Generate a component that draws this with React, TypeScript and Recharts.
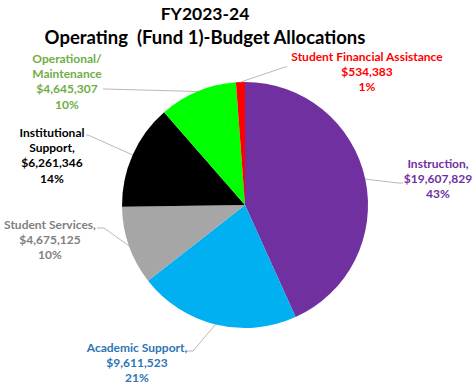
import { PieChart, Pie, Cell } from "recharts";

// FY2023-24 operating fund allocations
const categories = [
  ["Instruction,"],
  ["Academic Support,"],
  ["Student Services,"],
  ["Institutional", "Support,"],
  ["Operational/", "Maintenance"],
  ["Student Financial Assistance"],
];
const amounts = [19607829, 9611523, 4675125, 6261346, 4645307, 534383];

const sliceColors = ["#7030A0", "#00B0F0", "#A6A6A6", "#000000", "#00FF00", "#FF0000"];
const textColors = ["#7030A0", "#2E75B6", "#7F7F7F", "#000000", "#70AD47", "#FF0000"];

// where each label block sits (center x, first baseline) and where the leader leaves it
const labelLayout = [
  { x: 438, y: 168, lx: 403, ly: 183, kx: 398 },
  { x: 137, y: 352, lx: 187, ly: 351, kx: 193 },
  { x: 50, y: 229, lx: 97, ly: 228, kx: 104 },
  { x: 52, y: 137, lx: 86, ly: 135, kx: 88 },
  { x: 67, y: 63, lx: 103, ly: 89, kx: 105 },
  { x: 367, y: 61, lx: 287, ly: 67, kx: 285 },
];

const data = categories.map((lines, i) => ({ name: lines.join(" "), value: amounts[i] }));

const FONT = "Lato, 'Open Sans', sans-serif";
const RAD = Math.PI / 180;

const fmt = (v: number) => "$" + v.toLocaleString("en-US");

const renderLabel = (props: any) => {
  const { cx, cy, midAngle, outerRadius, index, percent, value } = props;
  const pos = labelLayout[index];
  const ex = cx + outerRadius * Math.cos(-midAngle * RAD);
  const ey = cy + outerRadius * Math.sin(-midAngle * RAD);
  const lines = [...categories[index], fmt(value), `${Math.round(percent * 100)}%`];
  return (
    <g key={`lbl-${index}`}>
      <polyline
        points={`${pos.lx},${pos.ly} ${pos.kx},${pos.ly} ${ex},${ey}`}
        fill="none"
        stroke="#A6A6A6"
        strokeWidth={0.8}
      />
      <text
        x={pos.x}
        y={pos.y}
        textAnchor="middle"
        fill={textColors[index]}
        fontFamily={FONT}
        fontWeight={700}
        fontSize={12}
      >
        {lines.map((t, j) => (
          <tspan key={j} x={pos.x} dy={j === 0 ? 0 : 15.2}>
            {t}
          </tspan>
        ))}
      </text>
    </g>
  );
};

export default function App() {
  return (
    <div style={{ position: "absolute", left: 0, top: 0, width: 474, height: 389, background: "#fff" }}>
      <PieChart width={474} height={389} margin={{ top: 0, right: 0, bottom: 0, left: 0 }}>
        <Pie
          data={data}
          dataKey="value"
          nameKey="name"
          cx={245}
          cy={205}
          outerRadius={123}
          startAngle={90}
          endAngle={-270}
          stroke="none"
          label={renderLabel}
          labelLine={false}
          isAnimationActive={false}
        >
          {data.map((d, i) => (
            <Cell key={d.name} fill={sliceColors[i]} />
          ))}
        </Pie>
      </PieChart>
      <svg
        width={474}
        height={60}
        style={{ position: "absolute", left: 0, top: 0, pointerEvents: "none" }}
      >
        <text x={205} y={20} textAnchor="middle" fontFamily={FONT} fontWeight={700} fontSize={17.5} fill="#000">
          FY2023-24
        </text>
        <text
          x={205}
          y={44}
          textAnchor="middle"
          fontFamily={FONT}
          fontWeight={700}
          fontSize={18.5}
          fill="#000"
          style={{ whiteSpace: "pre" }}
        >
          Operating  (Fund 1)-Budget Allocations
        </text>
      </svg>
    </div>
  );
}
